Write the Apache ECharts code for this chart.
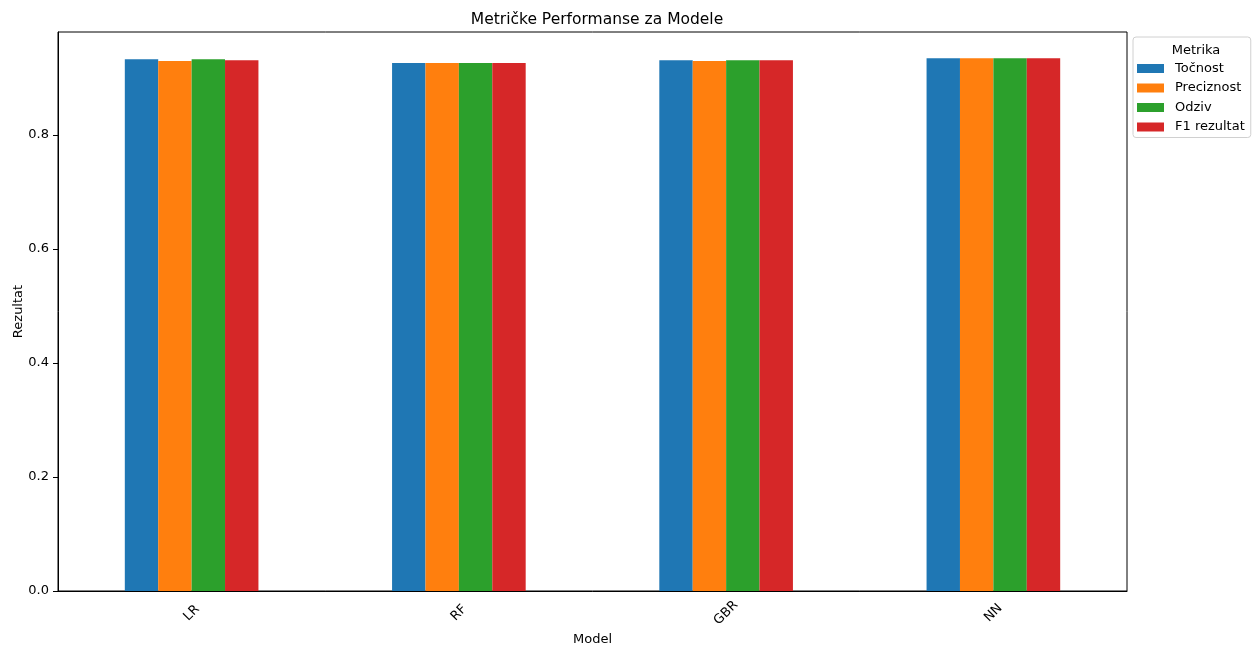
<!DOCTYPE html>
<html lang="hr">
<head>
<meta charset="UTF-8" />
<title>Metričke Performanse za Modele</title>
<script src="https://cdn.jsdelivr.net/npm/echarts@6/dist/echarts.min.js"></script>
<style>
  html, body { margin: 0; padding: 0; background: #fff; }
  #chart { width: 1253px; height: 645px; }
</style>
</head>
<body>
<div id="chart"></div>
<script>
  const models = ["LR", "RF", "GBR", "NN"];
  const metrics = ["Točnost", "Preciznost", "Odziv", "F1 rezultat"];
  const tocnost = [0.9328, 0.9263, 0.9311, 0.9346];
  const preciznost = [0.9298, 0.9263, 0.9298, 0.9346];
  const odziv = [0.9328, 0.9263, 0.9311, 0.9346];
  const f1 = [0.9311, 0.9263, 0.9311, 0.9346];
  const yTicks = [0, 0.2, 0.4, 0.6, 0.8];

  const colors = ["#1f77b4", "#ff7f0e", "#2ca02c", "#d62728"];
  const values = [tocnost, preciznost, odziv, f1];
  const font = "DejaVu Sans";

  const chart = echarts.init(document.getElementById("chart"));
  chart.setOption({
    animation: false,
    color: colors,
    textStyle: { fontFamily: font },
    title: [
      {
        text: "Metričke Performanse za Modele",
        left: 592, top: 7, textAlign: "center",
        textStyle: { fontFamily: font, fontSize: 15.5, fontWeight: "normal", color: "#000" }
      },
      {
        text: "Metrika",
        left: 1191, top: 39, textAlign: "center",
        textStyle: { fontFamily: font, fontSize: 13, fontWeight: "normal", color: "#000" }
      }
    ],
    legend: {
      data: metrics,
      orient: "vertical",
      left: 1133, top: 37,
      padding: [25, 6, 4, 4],
      borderColor: "#d0d0d0", borderWidth: 1, borderRadius: 3,
      itemWidth: 27, itemHeight: 9, itemGap: 6.5,
      icon: "rect",
      textStyle: { fontFamily: font, fontSize: 13, color: "#000", padding: [0, 0, 0, 6] }
    },
    grid: {
      left: 58, right: 126, top: 32, bottom: 54,
      outerBoundsMode: "none",
      containLabel: false,
      show: true, borderColor: "#000", borderWidth: 1, backgroundColor: "transparent"
    },
    xAxis: {
      type: "category",
      data: models,
      name: "Model",
      nameLocation: "middle",
      nameGap: 42,
      nameMoveOverlap: false,
      nameTextStyle: { fontFamily: font, fontSize: 13, color: "#000" },
      axisLine: { lineStyle: { color: "#000" } },
      axisTick: { alignWithLabel: true, length: 5, lineStyle: { color: "#000" } },
      axisLabel: {
        rotate: 45, align: "center", verticalAlign: "middle",
        fontFamily: font, fontSize: 13, color: "#000", margin: 22
      },
      splitLine: { show: false }
    },
    yAxis: {
      type: "value",
      min: 0, max: 0.9807, interval: 0.2,
      name: "Rezultat",
      nameLocation: "middle",
      nameGap: 33,
      nameMoveOverlap: false,
      nameTextStyle: { fontFamily: font, fontSize: 13, color: "#000" },
      axisLine: { show: true, lineStyle: { color: "#000" } },
      axisTick: { show: true, length: 5, customValues: yTicks, lineStyle: { color: "#000" } },
      axisLabel: {
        fontFamily: font, fontSize: 13, color: "#000", margin: 9,
        customValues: yTicks,
        formatter: (v) => v.toFixed(1)
      },
      splitLine: { show: false }
    },
    series: metrics.map((name, i) => ({
      name,
      type: "bar",
      data: values[i],
      barGap: "0%",
      barCategoryGap: "50%",
      itemStyle: { color: colors[i] }
    }))
  });
</script>
</body>
</html>
